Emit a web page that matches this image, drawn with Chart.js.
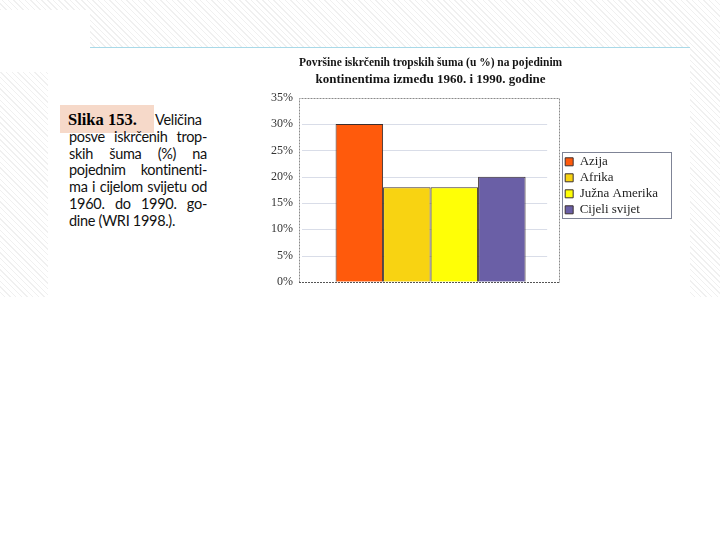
<!DOCTYPE html>
<html>
<head>
<meta charset="utf-8">
<script src="https://cdn.jsdelivr.net/npm/chart.js@4.4.1/dist/chart.umd.min.js"></script>
<style>
  html, body { margin: 0; padding: 0; background: #fff; }
  body { width: 720px; height: 540px; position: relative; overflow: hidden; }
  .hatch { position: absolute; left: 0; top: 0; width: 720px; height: 297px;
    background: repeating-linear-gradient(45deg, #ffffff 0px, #ffffff 3px, #f0f0f0 3px, #f0f0f0 4px); }
  .white1 { position: absolute; left: 0; top: 10px; width: 90px; height: 62px; background: #fff; }
  .scan { position: absolute; left: 48px; top: 48px; width: 642px; height: 249px; background: #fff; }
  .blueline { position: absolute; left: 90px; top: 47px; width: 600px; height: 1px; background: #a9d9e8; }
  .label { position: absolute; left: 60px; top: 105px; width: 94px; height: 28px; background: #f6d9c9;
    font-family: "Liberation Serif", serif; font-size: 16.5px; font-weight: bold; color: #000; line-height: 30px; box-sizing: border-box; padding-left: 8px; }
  .caption { position: absolute; left: 69px; top: 112px; width: 138px; font-family: Lato, "Open Sans", sans-serif;
    font-size: 14.5px; line-height: 16.8px; color: #111; letter-spacing: -0.3px; }
  .caption div { text-align: justify; text-align-last: justify; white-space: nowrap; }
  .caption div.first { padding-left: 86px; }
  .caption div.last { text-align: left; text-align-last: left; }
  #wrap { position: absolute; left: 230px; top: 50px; width: 443px; height: 245px; }
</style>
</head>
<body>
<div class="hatch"></div>
<div class="white1"></div>
<div class="scan"></div>
<div class="blueline"></div>
<div class="label">Slika 153.</div>
<div class="caption">
  <div class="first">Veličina</div>
  <div>posve iskrčenih trop-</div>
  <div>skih šuma (%) na</div>
  <div>pojednim kontinenti-</div>
  <div>ma i cijelom svijetu od</div>
  <div>1960. do 1990. go-</div>
  <div class="last">dine (WRI 1998.).</div>
</div>
<div id="wrap"><canvas id="c"></canvas></div>
<script>
const titleLines = ['Površine iskrčenih tropskih šuma (u %) na pojedinim', 'kontinentima između 1960. i 1990. godine'];
const categories = ['Azija', 'Afrika', 'Južna Amerika', 'Cijeli svijet'];
const values = [30, 18, 18, 20];
const colors = ['#ff5a0c', '#f8d312', '#ffff06', '#6a5fa6'];
const yTicks = [0, 5, 10, 15, 20, 25, 30, 35];

const FRAME_INSET = 3;

const datasets = categories.map((name, i) => ({
  label: name,
  data: [values[i]],
  backgroundColor: colors[i],
  borderColor: '#3b2f2f',
  borderWidth: 1,
  categoryPercentage: 0.722,
  barPercentage: 1.0
}));

const plotFrame = {
  id: 'plotFrame',
  beforeDatasetsDraw(chart) {
    const a = chart.chartArea, ctx = chart.ctx;
    const ys = chart.scales.y;
    const right = a.right - FRAME_INSET;
    ctx.save();
    ctx.lineWidth = 1;
    ctx.strokeStyle = 'rgba(192,198,216,0.6)';
    yTicks.forEach(v => {
      if (v === 0 || v === 35) return;
      const y = Math.round(ys.getPixelForValue(v)) + 0.5;
      ctx.beginPath();
      ctx.moveTo(a.left + 3, y);
      ctx.lineTo(right - 12, y);
      ctx.stroke();
    });
    ctx.strokeStyle = '#8a8a8a';
    ctx.setLineDash([2, 1]);
    ctx.beginPath();
    ctx.moveTo(Math.round(a.left) + 0.5, Math.round(a.bottom) + 0.5);
    ctx.lineTo(Math.round(a.left) + 0.5, Math.round(a.top) + 0.5);
    ctx.lineTo(Math.round(right) + 0.5, Math.round(a.top) + 0.5);
    ctx.lineTo(Math.round(right) + 0.5, Math.round(a.bottom) + 0.5);
    ctx.stroke();
    ctx.strokeStyle = '#555';
    ctx.beginPath();
    ctx.moveTo(Math.round(a.left), Math.round(a.bottom) + 0.5);
    ctx.lineTo(Math.round(right) + 1, Math.round(a.bottom) + 0.5);
    ctx.stroke();
    ctx.restore();
  }
};

const legendFrame = {
  id: 'legendFrame',
  afterDraw(chart) {
    const lg = chart.legend;
    if (!lg || !lg.legendHitBoxes || !lg.legendHitBoxes.length) return;
    const hb = lg.legendHitBoxes;
    let l = Infinity, t = Infinity, r = -Infinity, b = -Infinity;
    hb.forEach(h => { l = Math.min(l, h.left); t = Math.min(t, h.top); r = Math.max(r, h.left + h.width); b = Math.max(b, h.top + h.height); });
    const ctx = chart.ctx;
    ctx.save();
    ctx.strokeStyle = '#7f8496';
    ctx.lineWidth = 1;
    ctx.strokeRect(Math.round(l - 3) + 0.5, Math.round(t - 3) + 0.5, Math.round(r - l + 16), Math.round(b - t + 5));
    ctx.restore();
  }
};

new Chart(document.getElementById('c'), {
  type: 'bar',
  data: { labels: [''], datasets },
  options: {
    responsive: true,
    maintainAspectRatio: false,
    animation: false,
    layout: { padding: { left: 9, right: 5, top: 0, bottom: 2 } },
    plugins: {
      title: {
        display: true,
        text: titleLines,
        fullSize: false,
        color: '#151515',
        font: { family: '"Liberation Serif", serif', size: 13, weight: 'bold', lineHeight: 1.3 },
        padding: { top: 4, bottom: 10 }
      },
      legend: {
        position: 'right',
        fullSize: false,
        align: 'start',
        title: {
          display: true,
          text: ' ',
          font: { size: 10, lineHeight: 1 },
          padding: { top: 44.5, bottom: 0 }
        },
        labels: {
          boxWidth: 8,
          boxHeight: 8,
          padding: 3,
          color: '#1e1e1e',
          font: { family: '"Liberation Serif", serif', size: 13 }
        }
      },
      tooltip: { enabled: false }
    },
    scales: {
      x: { display: false },
      y: {
        min: 0, max: 35,
        afterBuildTicks(scale) { scale.ticks = yTicks.map(v => ({ value: v })); },
        afterFit(scale) { scale.width = 60; },
        ticks: {
          padding: 6,
          color: '#333',
          font: { family: '"Liberation Serif", serif', size: 12 },
          callback: v => v + '%'
        },
        grid: { display: false, drawTicks: false },
        border: { display: false }
      }
    }
  },
  plugins: [plotFrame, legendFrame]
});
</script>
</body>
</html>
